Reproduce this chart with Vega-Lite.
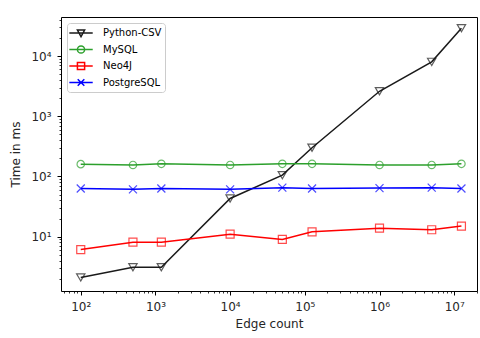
{
  "$schema": "https://vega.github.io/schema/vega-lite/v6.json",
  "width": 416,
  "height": 274,
  "autosize": "none",
  "padding": {"left": 61, "top": 17, "right": 3, "bottom": 47},
  "background": "white",
  "config": {
    "font": "DejaVu Sans",
    "view": {"stroke": "#000000", "strokeWidth": 1},
    "axis": {
      "domain": false, "grid": false,
      "tickColor": "#000000", "tickWidth": 1, "tickSize": 4,
      "labelFont": "DejaVu Sans", "labelFontSize": 12, "labelColor": "#262626",
      "labelFlush": false, "labelBound": false,
      "titleFont": "DejaVu Sans", "titleFontSize": 12, "titleFontWeight": "normal", "titleColor": "#262626"
    },
    "axisX": {"labelPadding": 6},
    "axisY": {"labelPadding": 6}
  },
  "data": {"values": [
    {"edges": 100, "series": "Python-CSV", "time": 2.1},
    {"edges": 500, "series": "Python-CSV", "time": 3.1},
    {"edges": 1200, "series": "Python-CSV", "time": 3.1},
    {"edges": 10000, "series": "Python-CSV", "time": 43},
    {"edges": 50000, "series": "Python-CSV", "time": 105},
    {"edges": 125000, "series": "Python-CSV", "time": 300},
    {"edges": 1000000, "series": "Python-CSV", "time": 2600},
    {"edges": 5000000, "series": "Python-CSV", "time": 8000},
    {"edges": 12500000, "series": "Python-CSV", "time": 29000},
    {"edges": 100, "series": "MySQL", "time": 160},
    {"edges": 500, "series": "MySQL", "time": 155},
    {"edges": 1200, "series": "MySQL", "time": 162},
    {"edges": 10000, "series": "MySQL", "time": 155},
    {"edges": 50000, "series": "MySQL", "time": 162},
    {"edges": 125000, "series": "MySQL", "time": 162},
    {"edges": 1000000, "series": "MySQL", "time": 155},
    {"edges": 5000000, "series": "MySQL", "time": 155},
    {"edges": 12500000, "series": "MySQL", "time": 162},
    {"edges": 100, "series": "Neo4J", "time": 6.1},
    {"edges": 500, "series": "Neo4J", "time": 8.1},
    {"edges": 1200, "series": "Neo4J", "time": 8.1},
    {"edges": 10000, "series": "Neo4J", "time": 11},
    {"edges": 50000, "series": "Neo4J", "time": 9},
    {"edges": 125000, "series": "Neo4J", "time": 12},
    {"edges": 1000000, "series": "Neo4J", "time": 13.8},
    {"edges": 5000000, "series": "Neo4J", "time": 13},
    {"edges": 12500000, "series": "Neo4J", "time": 15},
    {"edges": 100, "series": "PostgreSQL", "time": 63},
    {"edges": 500, "series": "PostgreSQL", "time": 61},
    {"edges": 1200, "series": "PostgreSQL", "time": 63},
    {"edges": 10000, "series": "PostgreSQL", "time": 61},
    {"edges": 50000, "series": "PostgreSQL", "time": 65},
    {"edges": 125000, "series": "PostgreSQL", "time": 63},
    {"edges": 1000000, "series": "PostgreSQL", "time": 64},
    {"edges": 5000000, "series": "PostgreSQL", "time": 65},
    {"edges": 12500000, "series": "PostgreSQL", "time": 63}
  ]},
  "layer": [
    {
      "mark": {"type": "line", "strokeWidth": 1.5},
      "encoding": {
        "x": {"field": "edges", "type": "quantitative",
          "scale": {"type": "log", "domain": [54.4, 20200000], "nice": false},
          "axis": {"orient": "bottom", "values": [100, 1000, 10000, 100000, 1000000, 10000000],
            "labelExpr": "'10' + ['⁰','¹','²','³','⁴','⁵','⁶','⁷','⁸'][round(log(datum.value)/LN10)]",
            "title": "Edge count", "titlePadding": 6}},
        "y": {"field": "time", "type": "quantitative",
          "scale": {"type": "log", "domain": [1.25, 44500], "nice": false},
          "axis": {"orient": "left", "values": [10, 100, 1000, 10000],
            "labelExpr": "'10' + ['⁰','¹','²','³','⁴','⁵','⁶','⁷','⁸'][round(log(datum.value)/LN10)]",
            "title": "Time in ms", "titlePadding": 8}},
        "color": {"field": "series", "type": "nominal",
          "scale": {"domain": ["Python-CSV", "MySQL", "Neo4J", "PostgreSQL"], "range": ["#1a1a1a", "#2ca02c", "#ff0000", "#0000ff"]},
          "legend": {
            "orient": "top-left", "offset": 6, "title": null,
            "fillColor": "rgba(255,255,255,0.8)", "strokeColor": "#cccccc", "cornerRadius": 3,
            "padding": 3, "rowPadding": 2.5, "labelOffset": 19,
            "labelFont": "DejaVu Sans", "labelFontSize": 10, "labelColor": "#000000",
            "symbolSize": 144, "symbolStrokeWidth": 1.5,
            "encode": {"symbols": {"update": {
              "shape": {"signal": "datum.value == 'Python-CSV' ? 'M-1.28,0H2.62M0.07,-0.5L1.27,-0.5L0.67,0.6Z' : datum.value == 'MySQL' ? 'M-1.28,0H2.62M0.07,0A0.6,0.6 0 1,1 1.27,0A0.6,0.6 0 1,1 0.07,0Z' : datum.value == 'Neo4J' ? 'M-1.28,0H2.62M0.07,-0.6H1.27V0.6H0.07Z' : 'M-1.28,0H2.62M0.12,-0.55L1.22,0.55M0.12,0.55L1.22,-0.55'"},
              "fill": {"value": "transparent"},
              "strokeWidth": {"value": 1.5}
            }}}
          }}
      }
    },
    {
      "transform": [{"filter": "datum.series == 'Python-CSV'"}],
      "mark": {"type": "point", "filled": false, "strokeWidth": 1.2, "size": 70, "shape": "triangle-down", "color": "#1a1a1a"},
      "encoding": {
        "x": {"field": "edges", "type": "quantitative", "axis": null},
        "y": {"field": "time", "type": "quantitative", "axis": null}
      }
    },
    {
      "transform": [{"filter": "datum.series == 'MySQL'"}],
      "mark": {"type": "point", "filled": false, "strokeWidth": 1.2, "size": 55, "shape": "circle", "color": "#2ca02c"},
      "encoding": {
        "x": {"field": "edges", "type": "quantitative", "axis": null},
        "y": {"field": "time", "type": "quantitative", "axis": null}
      }
    },
    {
      "transform": [{"filter": "datum.series == 'Neo4J'"}],
      "mark": {"type": "point", "filled": false, "strokeWidth": 1.2, "size": 64, "shape": "square", "color": "#ff0000"},
      "encoding": {
        "x": {"field": "edges", "type": "quantitative", "axis": null},
        "y": {"field": "time", "type": "quantitative", "axis": null}
      }
    },
    {
      "transform": [{"filter": "datum.series == 'PostgreSQL'"}],
      "mark": {"type": "point", "filled": false, "strokeWidth": 1.2, "size": 64, "shape": "M-1,-1L1,1M-1,1L1,-1", "color": "#0000ff"},
      "encoding": {
        "x": {"field": "edges", "type": "quantitative", "axis": null},
        "y": {"field": "time", "type": "quantitative", "axis": null}
      }
    },
    {
      "mark": {"type": "point", "opacity": 0},
      "encoding": {
        "x": {"field": "edges", "type": "quantitative",
          "axis": {"orient": "bottom", "values": [60,70,80,90,200,300,400,500,600,700,800,900,2000,3000,4000,5000,6000,7000,8000,9000,20000,30000,40000,50000,60000,70000,80000,90000,200000,300000,400000,500000,600000,700000,800000,900000,2000000,3000000,4000000,5000000,6000000,7000000,8000000,9000000,20000000],
            "labels": false, "tickSize": 2, "tickWidth": 0.8, "title": null}},
        "y": {"field": "time", "type": "quantitative",
          "axis": {"orient": "left", "values": [2,3,4,5,6,7,8,9,20,30,40,50,60,70,80,90,200,300,400,500,600,700,800,900,2000,3000,4000,5000,6000,7000,8000,9000,20000,30000,40000],
            "labels": false, "tickSize": 2, "tickWidth": 0.8, "title": null}}
      }
    }
  ],
  "resolve": {"axis": {"x": "independent", "y": "independent"}}
}
